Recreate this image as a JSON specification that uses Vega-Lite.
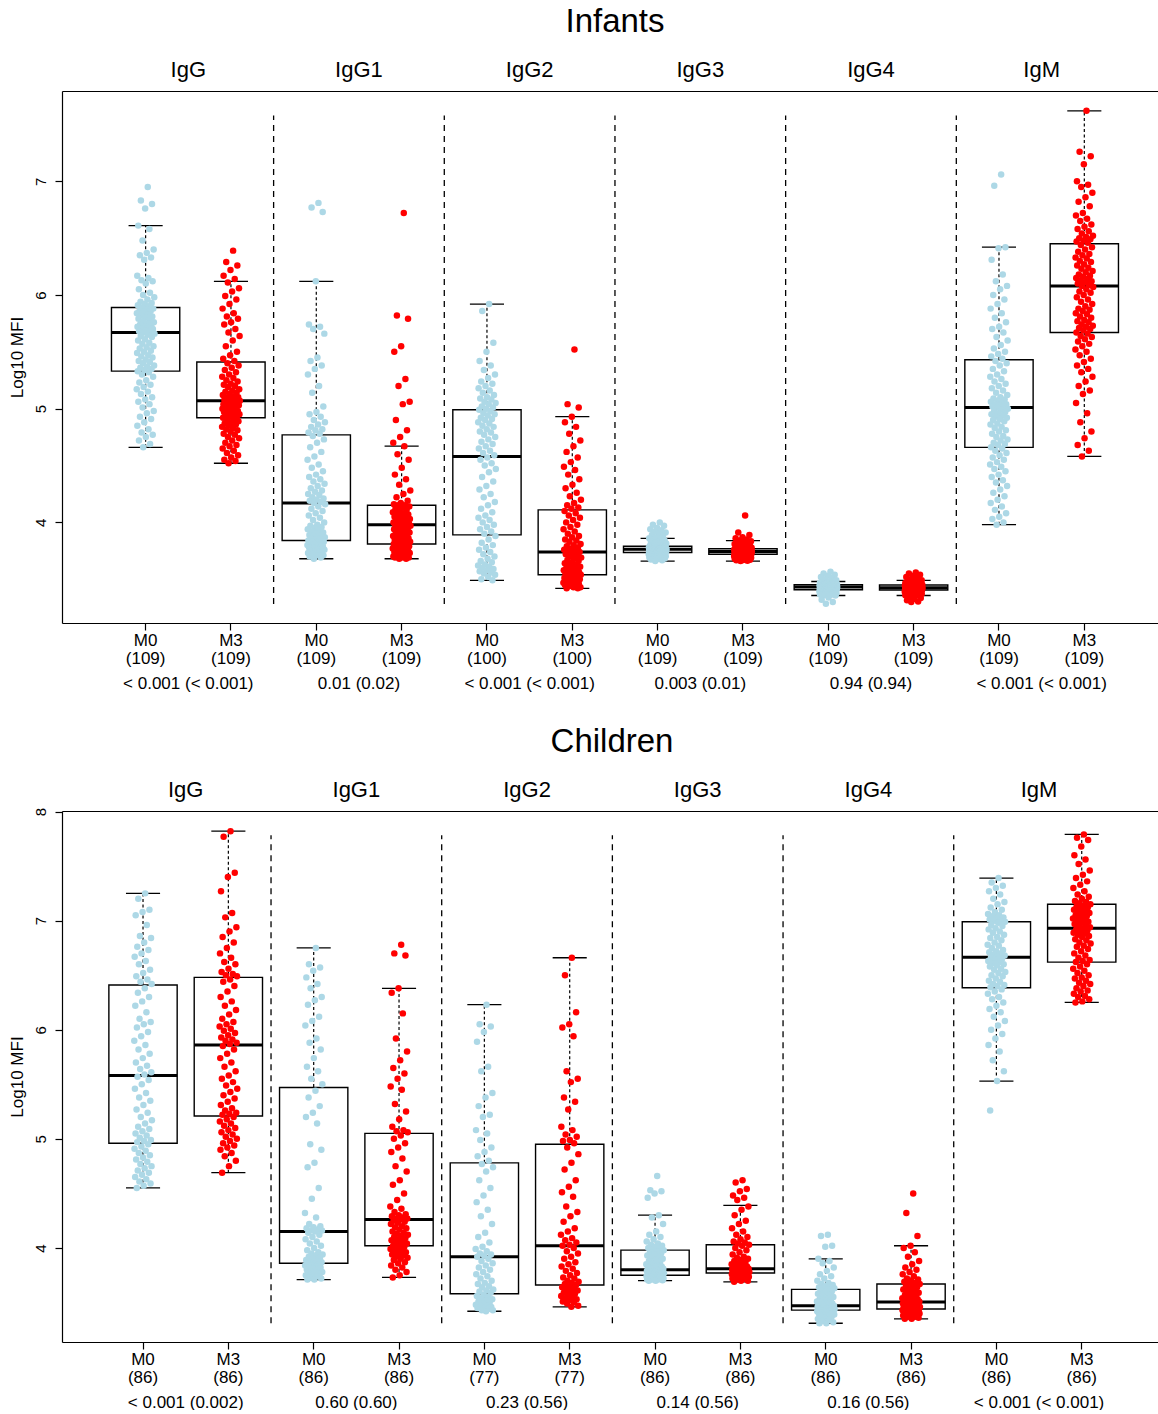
{
"$schema":"https://vega.github.io/schema/vega-lite/v6.json",
"padding":{"top":6,"left":8,"right":0,"bottom":0},
"spacing":35,
"config":{"view":{"stroke":null},"font":"Liberation Sans","axis":{"grid":false,"domainColor":"#000","tickColor":"#000","labelColor":"#000","titleColor":"#000","titleFontWeight":"normal","labelFont":"Liberation Sans","titleFont":"Liberation Sans"},"title":{"fontWeight":"normal","color":"#000","anchor":"middle","font":"Liberation Sans"}},
"datasets":{
"grp":[
{"p":"Infants","iso":"IgG","pv":"< 0.001 (< 0.001)"},{"p":"Infants","iso":"IgG1","pv":"0.01 (0.02)"},{"p":"Infants","iso":"IgG2","pv":"< 0.001 (< 0.001)"},{"p":"Infants","iso":"IgG3","pv":"0.003 (0.01)"},{"p":"Infants","iso":"IgG4","pv":"0.94 (0.94)"},{"p":"Infants","iso":"IgM","pv":"< 0.001 (< 0.001)"},
{"p":"Children","iso":"IgG","pv":"< 0.001 (0.002)"},{"p":"Children","iso":"IgG1","pv":"0.60 (0.60)"},{"p":"Children","iso":"IgG2","pv":"0.23 (0.56)"},{"p":"Children","iso":"IgG3","pv":"0.14 (0.56)"},{"p":"Children","iso":"IgG4","pv":"0.16 (0.56)"},{"p":"Children","iso":"IgM","pv":"< 0.001 (< 0.001)"}
],
"box":[
{"p":"Infants","iso":"IgG","t":"M0","n":109,"lo":4.66,"q1":5.33,"med":5.67,"q3":5.89,"hi":6.61},
{"p":"Infants","iso":"IgG","t":"M3","n":109,"lo":4.52,"q1":4.92,"med":5.07,"q3":5.41,"hi":6.12},
{"p":"Infants","iso":"IgG1","t":"M0","n":109,"lo":3.68,"q1":3.84,"med":4.17,"q3":4.77,"hi":6.12},
{"p":"Infants","iso":"IgG1","t":"M3","n":109,"lo":3.68,"q1":3.81,"med":3.98,"q3":4.15,"hi":4.67},
{"p":"Infants","iso":"IgG2","t":"M0","n":100,"lo":3.49,"q1":3.89,"med":4.58,"q3":4.99,"hi":5.92},
{"p":"Infants","iso":"IgG2","t":"M3","n":100,"lo":3.42,"q1":3.54,"med":3.74,"q3":4.11,"hi":4.93},
{"p":"Infants","iso":"IgG3","t":"M0","n":109,"lo":3.66,"q1":3.735,"med":3.764,"q3":3.79,"hi":3.86},
{"p":"Infants","iso":"IgG3","t":"M3","n":109,"lo":3.66,"q1":3.72,"med":3.744,"q3":3.768,"hi":3.84},
{"p":"Infants","iso":"IgG4","t":"M0","n":109,"lo":3.357,"q1":3.408,"med":3.432,"q3":3.452,"hi":3.48},
{"p":"Infants","iso":"IgG4","t":"M3","n":109,"lo":3.357,"q1":3.405,"med":3.425,"q3":3.449,"hi":3.49},
{"p":"Infants","iso":"IgM","t":"M0","n":109,"lo":3.98,"q1":4.66,"med":5.01,"q3":5.43,"hi":6.42},
{"p":"Infants","iso":"IgM","t":"M3","n":109,"lo":4.58,"q1":5.67,"med":6.08,"q3":6.45,"hi":7.62},
{"p":"Children","iso":"IgG","t":"M0","n":86,"lo":4.55,"q1":4.96,"med":5.58,"q3":6.41,"hi":7.25},
{"p":"Children","iso":"IgG","t":"M3","n":86,"lo":4.69,"q1":5.21,"med":5.86,"q3":6.48,"hi":7.82},
{"p":"Children","iso":"IgG1","t":"M0","n":86,"lo":3.71,"q1":3.86,"med":4.15,"q3":5.47,"hi":6.75},
{"p":"Children","iso":"IgG1","t":"M3","n":86,"lo":3.73,"q1":4.02,"med":4.26,"q3":5.05,"hi":6.38},
{"p":"Children","iso":"IgG2","t":"M0","n":77,"lo":3.42,"q1":3.58,"med":3.92,"q3":4.78,"hi":6.23},
{"p":"Children","iso":"IgG2","t":"M3","n":77,"lo":3.46,"q1":3.66,"med":4.02,"q3":4.95,"hi":6.66},
{"p":"Children","iso":"IgG3","t":"M0","n":86,"lo":3.70,"q1":3.75,"med":3.80,"q3":3.98,"hi":4.30},
{"p":"Children","iso":"IgG3","t":"M3","n":86,"lo":3.69,"q1":3.77,"med":3.81,"q3":4.03,"hi":4.39},
{"p":"Children","iso":"IgG4","t":"M0","n":86,"lo":3.31,"q1":3.43,"med":3.47,"q3":3.62,"hi":3.90},
{"p":"Children","iso":"IgG4","t":"M3","n":86,"lo":3.35,"q1":3.44,"med":3.505,"q3":3.67,"hi":4.02},
{"p":"Children","iso":"IgM","t":"M0","n":86,"lo":5.53,"q1":6.385,"med":6.665,"q3":6.99,"hi":7.39},
{"p":"Children","iso":"IgM","t":"M3","n":86,"lo":6.25,"q1":6.62,"med":6.93,"q3":7.15,"hi":7.79}
],
"pts":[
{"p":"Infants","iso":"IgG","t":"M0","n":109,"v":[6.95,6.83,6.80,6.76,6.61,6.58,6.48,6.40,6.37,6.35,6.33,6.31,6.17,6.15,6.13,6.12,6.10,6.05,6.02,6.00,5.98,5.96,5.94,5.93,5.92,5.91,5.90,5.89,5.88,5.87,5.86,5.86,5.85,5.84,5.83,5.82,5.81,5.80,5.79,5.78,5.77,5.76,5.75,5.74,5.73,5.72,5.72,5.71,5.70,5.70,5.69,5.68,5.68,5.67,5.66,5.65,5.64,5.63,5.61,5.60,5.58,5.57,5.55,5.54,5.53,5.51,5.50,5.49,5.47,5.46,5.45,5.43,5.42,5.41,5.40,5.38,5.37,5.36,5.35,5.34,5.33,5.32,5.30,5.28,5.25,5.23,5.21,5.19,5.17,5.15,5.13,5.10,5.08,5.06,5.04,5.01,4.98,4.96,4.93,4.91,4.88,4.85,4.82,4.79,4.77,4.75,4.72,4.69,4.66]},
{"p":"Infants","iso":"IgG","t":"M3","n":109,"v":[6.39,6.29,6.26,6.22,6.17,6.14,6.11,6.06,6.03,5.99,5.96,5.92,5.88,5.84,5.81,5.79,5.76,5.74,5.70,5.67,5.64,5.60,5.55,5.50,5.47,5.44,5.42,5.40,5.38,5.36,5.34,5.32,5.30,5.28,5.27,5.25,5.24,5.22,5.21,5.20,5.19,5.17,5.16,5.15,5.14,5.13,5.12,5.11,5.10,5.10,5.09,5.08,5.08,5.07,5.07,5.06,5.06,5.05,5.05,5.04,5.04,5.03,5.03,5.02,5.01,5.01,5.00,5.00,4.99,4.99,4.98,4.97,4.97,4.96,4.96,4.95,4.95,4.94,4.93,4.93,4.92,4.91,4.90,4.89,4.88,4.87,4.86,4.85,4.84,4.83,4.82,4.81,4.80,4.78,4.77,4.75,4.74,4.72,4.70,4.68,4.67,4.65,4.63,4.61,4.59,4.57,4.55,4.54,4.52]},
{"p":"Infants","iso":"IgG1","t":"M0","n":109,"v":[6.81,6.77,6.73,6.12,5.74,5.72,5.70,5.66,5.45,5.42,5.38,5.35,5.30,5.20,5.14,5.02,4.97,4.95,4.93,4.90,4.88,4.86,4.84,4.82,4.81,4.79,4.78,4.76,4.73,4.70,4.66,4.62,4.58,4.55,4.51,4.48,4.45,4.42,4.40,4.38,4.36,4.34,4.32,4.30,4.28,4.27,4.25,4.24,4.22,4.21,4.20,4.19,4.18,4.17,4.16,4.14,4.12,4.10,4.08,4.06,4.04,4.02,4.00,3.98,3.97,3.96,3.95,3.94,3.93,3.92,3.91,3.90,3.89,3.88,3.88,3.87,3.86,3.86,3.85,3.85,3.84,3.84,3.83,3.83,3.82,3.82,3.81,3.81,3.80,3.80,3.79,3.79,3.78,3.78,3.77,3.77,3.76,3.76,3.75,3.75,3.74,3.73,3.73,3.72,3.71,3.71,3.70,3.69,3.68]},
{"p":"Infants","iso":"IgG1","t":"M3","n":109,"v":[6.72,5.82,5.79,5.55,5.50,5.26,5.20,5.06,5.04,4.90,4.81,4.75,4.70,4.67,4.60,4.55,4.48,4.42,4.38,4.33,4.28,4.25,4.22,4.19,4.17,4.16,4.15,4.15,4.14,4.13,4.12,4.11,4.10,4.09,4.08,4.08,4.07,4.06,4.05,4.05,4.04,4.03,4.03,4.02,4.01,4.01,4.00,4.00,3.99,3.99,3.99,3.98,3.98,3.98,3.97,3.96,3.96,3.95,3.94,3.94,3.93,3.92,3.91,3.91,3.90,3.89,3.89,3.88,3.87,3.87,3.86,3.85,3.85,3.84,3.84,3.83,3.83,3.82,3.82,3.81,3.81,3.80,3.80,3.79,3.79,3.78,3.78,3.77,3.77,3.76,3.76,3.75,3.75,3.74,3.74,3.73,3.73,3.72,3.72,3.71,3.71,3.70,3.70,3.70,3.69,3.69,3.69,3.68,3.68]},
{"p":"Infants","iso":"IgG2","t":"M0","n":100,"v":[5.92,5.86,5.58,5.50,5.42,5.38,5.34,5.30,5.27,5.24,5.22,5.20,5.18,5.16,5.14,5.12,5.10,5.09,5.08,5.06,5.05,5.04,5.02,5.01,5.00,4.99,4.98,4.96,4.95,4.94,4.92,4.91,4.90,4.88,4.87,4.85,4.84,4.82,4.80,4.79,4.77,4.75,4.73,4.71,4.69,4.67,4.65,4.63,4.61,4.59,4.57,4.55,4.52,4.50,4.47,4.44,4.40,4.36,4.32,4.29,4.25,4.22,4.18,4.15,4.12,4.09,4.06,4.04,4.02,4.00,3.98,3.96,3.94,3.92,3.90,3.88,3.85,3.82,3.80,3.78,3.76,3.74,3.72,3.70,3.68,3.66,3.65,3.63,3.62,3.61,3.60,3.59,3.58,3.57,3.56,3.55,3.54,3.52,3.50,3.49]},
{"p":"Infants","iso":"IgG2","t":"M3","n":100,"v":[5.52,5.04,5.01,4.93,4.88,4.84,4.78,4.72,4.67,4.62,4.57,4.53,4.49,4.46,4.42,4.38,4.33,4.30,4.26,4.23,4.20,4.17,4.15,4.13,4.12,4.10,4.08,4.06,4.04,4.02,4.00,3.98,3.96,3.94,3.92,3.90,3.88,3.87,3.85,3.84,3.83,3.81,3.80,3.79,3.78,3.77,3.76,3.76,3.75,3.74,3.73,3.72,3.71,3.70,3.69,3.68,3.67,3.66,3.65,3.64,3.63,3.62,3.61,3.61,3.60,3.59,3.58,3.58,3.57,3.57,3.56,3.56,3.55,3.55,3.54,3.54,3.53,3.53,3.52,3.52,3.51,3.51,3.50,3.50,3.49,3.49,3.48,3.48,3.47,3.47,3.46,3.46,3.45,3.45,3.44,3.44,3.43,3.43,3.42,3.42]},
{"p":"Infants","iso":"IgG3","t":"M0","n":109,"v":[4.00,3.98,3.97,3.95,3.94,3.93,3.92,3.91,3.90,3.89,3.88,3.87,3.86,3.855,3.845,3.84,3.835,3.83,3.825,3.82,3.815,3.81,3.805,3.80,3.798,3.795,3.792,3.79,3.788,3.786,3.784,3.782,3.780,3.779,3.778,3.777,3.776,3.775,3.774,3.773,3.772,3.771,3.770,3.770,3.769,3.768,3.768,3.767,3.767,3.766,3.766,3.765,3.765,3.764,3.763,3.762,3.761,3.760,3.759,3.758,3.757,3.756,3.755,3.754,3.753,3.752,3.751,3.750,3.749,3.748,3.747,3.746,3.745,3.744,3.743,3.742,3.741,3.740,3.738,3.737,3.735,3.733,3.731,3.729,3.727,3.725,3.723,3.721,3.719,3.717,3.715,3.713,3.711,3.709,3.707,3.705,3.703,3.701,3.699,3.697,3.694,3.691,3.688,3.685,3.682,3.678,3.673,3.667,3.660]},
{"p":"Infants","iso":"IgG3","t":"M3","n":109,"v":[4.06,3.91,3.89,3.87,3.86,3.85,3.84,3.835,3.83,3.825,3.82,3.815,3.81,3.805,3.80,3.795,3.79,3.787,3.784,3.781,3.778,3.776,3.774,3.772,3.771,3.770,3.769,3.768,3.767,3.766,3.765,3.764,3.763,3.762,3.761,3.760,3.759,3.758,3.757,3.756,3.755,3.754,3.753,3.752,3.751,3.750,3.749,3.748,3.748,3.747,3.746,3.746,3.745,3.744,3.743,3.742,3.741,3.740,3.739,3.738,3.737,3.736,3.735,3.734,3.733,3.732,3.731,3.730,3.729,3.728,3.727,3.726,3.725,3.724,3.724,3.723,3.723,3.722,3.721,3.721,3.720,3.719,3.717,3.715,3.713,3.711,3.709,3.707,3.705,3.703,3.701,3.699,3.697,3.695,3.693,3.691,3.689,3.687,3.685,3.683,3.681,3.679,3.677,3.675,3.672,3.669,3.666,3.663,3.660]},
{"p":"Infants","iso":"IgG4","t":"M0","n":109,"v":[3.566,3.55,3.54,3.53,3.52,3.51,3.50,3.49,3.48,3.477,3.474,3.471,3.468,3.466,3.464,3.462,3.460,3.459,3.458,3.457,3.456,3.455,3.455,3.454,3.454,3.453,3.453,3.452,3.451,3.450,3.449,3.448,3.447,3.446,3.445,3.444,3.443,3.442,3.441,3.440,3.439,3.438,3.438,3.437,3.437,3.436,3.436,3.435,3.435,3.434,3.434,3.433,3.433,3.432,3.431,3.430,3.429,3.428,3.427,3.426,3.425,3.424,3.423,3.422,3.421,3.420,3.419,3.418,3.417,3.416,3.415,3.414,3.413,3.413,3.412,3.412,3.411,3.410,3.410,3.409,3.408,3.407,3.405,3.403,3.401,3.399,3.397,3.395,3.393,3.391,3.389,3.387,3.385,3.383,3.381,3.379,3.377,3.375,3.373,3.371,3.369,3.366,3.363,3.360,3.357,3.34,3.32,3.30,3.284]},
{"p":"Infants","iso":"IgG4","t":"M3","n":109,"v":[3.56,3.55,3.54,3.53,3.52,3.51,3.50,3.49,3.485,3.48,3.475,3.47,3.466,3.463,3.460,3.458,3.456,3.455,3.454,3.453,3.452,3.452,3.451,3.451,3.450,3.450,3.449,3.448,3.447,3.446,3.445,3.444,3.443,3.442,3.441,3.440,3.439,3.438,3.437,3.436,3.435,3.434,3.433,3.432,3.431,3.430,3.430,3.429,3.428,3.428,3.427,3.426,3.426,3.425,3.424,3.423,3.422,3.421,3.420,3.419,3.418,3.417,3.416,3.415,3.414,3.413,3.412,3.411,3.410,3.410,3.409,3.409,3.408,3.408,3.407,3.407,3.406,3.406,3.405,3.405,3.405,3.403,3.401,3.399,3.397,3.395,3.393,3.391,3.389,3.387,3.385,3.383,3.381,3.379,3.377,3.375,3.373,3.371,3.369,3.366,3.363,3.360,3.357,3.345,3.335,3.325,3.315,3.305,3.300]},
{"p":"Infants","iso":"IgM","t":"M0","n":109,"v":[7.06,6.96,6.42,6.41,6.31,6.18,6.12,6.08,6.05,6.00,5.96,5.92,5.88,5.84,5.80,5.76,5.72,5.70,5.67,5.63,5.60,5.56,5.53,5.50,5.48,5.46,5.44,5.42,5.40,5.38,5.35,5.33,5.30,5.28,5.26,5.24,5.22,5.20,5.18,5.16,5.14,5.12,5.10,5.09,5.08,5.07,5.06,5.05,5.04,5.04,5.03,5.02,5.02,5.01,5.00,4.99,4.98,4.97,4.96,4.95,4.94,4.93,4.92,4.91,4.90,4.89,4.87,4.86,4.84,4.83,4.81,4.80,4.78,4.76,4.75,4.73,4.72,4.70,4.69,4.68,4.66,4.65,4.63,4.61,4.59,4.57,4.55,4.53,4.51,4.49,4.47,4.45,4.42,4.40,4.37,4.35,4.32,4.29,4.26,4.23,4.20,4.17,4.14,4.11,4.08,4.05,4.03,4.00,3.98]},
{"p":"Infants","iso":"IgM","t":"M3","n":109,"v":[7.62,7.26,7.22,7.15,7.00,6.97,6.95,6.90,6.86,6.82,6.78,6.72,6.70,6.67,6.65,6.62,6.60,6.58,6.56,6.54,6.52,6.51,6.50,6.49,6.48,6.47,6.46,6.44,6.42,6.40,6.38,6.36,6.35,6.33,6.32,6.30,6.29,6.27,6.26,6.24,6.23,6.21,6.20,6.18,6.17,6.16,6.15,6.14,6.13,6.12,6.11,6.10,6.09,6.08,6.07,6.05,6.03,6.02,6.00,5.98,5.96,5.94,5.92,5.90,5.88,5.87,5.86,5.84,5.83,5.81,5.80,5.78,5.77,5.76,5.74,5.73,5.72,5.71,5.70,5.69,5.67,5.66,5.64,5.63,5.61,5.59,5.57,5.55,5.52,5.50,5.47,5.44,5.41,5.38,5.35,5.32,5.28,5.24,5.20,5.16,5.13,5.05,4.96,4.88,4.80,4.74,4.68,4.63,4.58]},
{"p":"Children","iso":"IgG","t":"M0","n":86,"v":[7.25,7.20,7.10,7.08,7.05,6.96,6.86,6.84,6.80,6.76,6.73,6.70,6.67,6.63,6.60,6.55,6.52,6.49,6.46,6.44,6.42,6.38,6.34,6.30,6.26,6.22,6.16,6.10,6.07,6.05,6.02,5.98,5.94,5.90,5.86,5.82,5.78,5.74,5.70,5.67,5.64,5.61,5.59,5.57,5.54,5.50,5.46,5.42,5.38,5.35,5.31,5.27,5.24,5.20,5.17,5.14,5.11,5.09,5.07,5.05,5.03,5.01,4.99,4.98,4.97,4.95,4.93,4.91,4.89,4.87,4.85,4.83,4.81,4.79,4.77,4.75,4.73,4.71,4.69,4.67,4.65,4.63,4.61,4.59,4.57,4.55]},
{"p":"Children","iso":"IgG","t":"M3","n":86,"v":[7.82,7.77,7.44,7.40,7.27,7.07,7.03,6.94,6.90,6.85,6.80,6.75,6.70,6.66,6.62,6.60,6.56,6.53,6.51,6.50,6.49,6.46,6.44,6.40,6.35,6.30,6.26,6.22,6.18,6.14,6.10,6.07,6.05,6.03,6.01,5.99,5.97,5.95,5.93,5.91,5.90,5.88,5.87,5.85,5.82,5.78,5.74,5.70,5.66,5.62,5.58,5.55,5.52,5.49,5.46,5.43,5.40,5.37,5.34,5.31,5.28,5.26,5.24,5.23,5.22,5.20,5.18,5.16,5.14,5.12,5.10,5.08,5.06,5.04,5.02,5.00,4.98,4.96,4.94,4.92,4.90,4.87,4.84,4.80,4.75,4.69]},
{"p":"Children","iso":"IgG1","t":"M0","n":86,"v":[6.75,6.60,6.57,6.54,6.48,6.42,6.38,6.30,6.27,6.23,6.12,6.08,6.04,5.92,5.88,5.82,5.74,5.66,5.62,5.55,5.50,5.44,5.38,5.30,5.24,5.20,5.14,4.95,4.90,4.78,4.74,4.55,4.45,4.32,4.28,4.22,4.20,4.19,4.18,4.17,4.16,4.16,4.15,4.14,4.12,4.10,4.08,4.06,4.04,4.02,4.00,3.98,3.96,3.95,3.94,3.93,3.92,3.91,3.90,3.89,3.88,3.87,3.87,3.86,3.86,3.85,3.84,3.84,3.83,3.82,3.82,3.81,3.80,3.80,3.79,3.78,3.78,3.77,3.76,3.76,3.75,3.74,3.73,3.72,3.71,3.71]},
{"p":"Children","iso":"IgG1","t":"M3","n":86,"v":[6.78,6.70,6.68,6.38,6.34,6.15,5.92,5.80,5.72,5.65,5.60,5.55,5.48,5.45,5.32,5.25,5.18,5.11,5.08,5.07,5.06,5.03,5.00,4.96,4.92,4.88,4.82,4.75,4.70,4.62,4.58,4.50,4.44,4.38,4.36,4.33,4.31,4.30,4.29,4.28,4.27,4.27,4.26,4.25,4.24,4.23,4.22,4.20,4.19,4.18,4.17,4.15,4.14,4.13,4.12,4.11,4.10,4.09,4.08,4.07,4.06,4.05,4.04,4.03,4.02,4.01,4.00,3.99,3.98,3.97,3.96,3.95,3.94,3.93,3.92,3.91,3.90,3.89,3.87,3.86,3.84,3.82,3.80,3.78,3.75,3.73]},
{"p":"Children","iso":"IgG2","t":"M0","n":77,"v":[6.23,6.05,6.03,5.98,5.89,5.66,5.62,5.42,5.38,5.30,5.22,5.20,5.08,5.05,4.99,4.92,4.88,4.84,4.80,4.77,4.74,4.70,4.62,4.55,4.48,4.42,4.35,4.29,4.22,4.14,4.10,4.05,4.01,3.99,3.97,3.95,3.94,3.93,3.92,3.90,3.88,3.86,3.84,3.82,3.80,3.78,3.76,3.74,3.72,3.70,3.68,3.67,3.65,3.64,3.62,3.61,3.60,3.59,3.57,3.56,3.55,3.54,3.53,3.52,3.51,3.50,3.49,3.48,3.47,3.47,3.46,3.45,3.45,3.44,3.43,3.43,3.42]},
{"p":"Children","iso":"IgG2","t":"M3","n":77,"v":[6.66,6.50,6.16,6.05,6.02,5.94,5.62,5.55,5.52,5.38,5.34,5.27,5.11,5.08,5.04,5.02,4.99,4.98,4.96,4.92,4.86,4.78,4.72,4.62,4.56,4.51,4.47,4.38,4.33,4.29,4.24,4.18,4.15,4.12,4.09,4.07,4.05,4.03,4.02,4.00,3.97,3.95,3.92,3.90,3.87,3.85,3.83,3.81,3.79,3.77,3.75,3.73,3.72,3.70,3.69,3.68,3.67,3.66,3.65,3.64,3.63,3.62,3.61,3.60,3.59,3.58,3.57,3.56,3.55,3.54,3.53,3.52,3.51,3.50,3.49,3.47,3.46]},
{"p":"Children","iso":"IgG3","t":"M0","n":86,"v":[4.66,4.53,4.52,4.50,4.46,4.30,4.28,4.22,4.15,4.12,4.10,4.08,4.06,4.04,4.03,4.02,4.01,4.00,3.99,3.98,3.98,3.97,3.96,3.95,3.94,3.93,3.92,3.91,3.90,3.89,3.88,3.87,3.86,3.85,3.84,3.84,3.83,3.83,3.82,3.82,3.81,3.81,3.80,3.80,3.80,3.79,3.79,3.79,3.785,3.78,3.78,3.78,3.775,3.77,3.77,3.77,3.765,3.76,3.76,3.76,3.76,3.755,3.75,3.75,3.75,3.75,3.745,3.74,3.74,3.74,3.735,3.73,3.73,3.73,3.725,3.72,3.72,3.72,3.715,3.71,3.71,3.71,3.71,3.705,3.70,3.70]},
{"p":"Children","iso":"IgG3","t":"M3","n":86,"v":[4.62,4.60,4.54,4.52,4.48,4.46,4.44,4.38,4.35,4.30,4.25,4.22,4.18,4.15,4.12,4.10,4.08,4.06,4.05,4.04,4.03,4.02,4.00,3.98,3.96,3.94,3.92,3.91,3.90,3.89,3.88,3.87,3.86,3.85,3.84,3.84,3.83,3.83,3.82,3.82,3.82,3.81,3.81,3.81,3.81,3.80,3.80,3.80,3.795,3.79,3.79,3.79,3.785,3.78,3.78,3.78,3.78,3.78,3.775,3.775,3.775,3.775,3.775,3.774,3.773,3.77,3.765,3.76,3.76,3.755,3.75,3.75,3.745,3.74,3.74,3.735,3.73,3.73,3.725,3.72,3.72,3.715,3.71,3.70,3.70,3.69]},
{"p":"Children","iso":"IgG4","t":"M0","n":86,"v":[4.12,4.11,4.02,4.01,3.90,3.88,3.86,3.82,3.79,3.76,3.74,3.72,3.70,3.68,3.67,3.66,3.65,3.64,3.64,3.63,3.63,3.62,3.61,3.60,3.59,3.58,3.57,3.56,3.55,3.54,3.53,3.52,3.52,3.51,3.50,3.50,3.49,3.49,3.48,3.48,3.48,3.47,3.47,3.47,3.465,3.46,3.46,3.455,3.455,3.45,3.45,3.45,3.445,3.445,3.44,3.44,3.44,3.435,3.435,3.435,3.43,3.43,3.43,3.43,3.43,3.43,3.42,3.42,3.42,3.41,3.41,3.41,3.40,3.40,3.39,3.39,3.38,3.38,3.37,3.36,3.35,3.34,3.33,3.32,3.31,3.31]},
{"p":"Children","iso":"IgG4","t":"M3","n":86,"v":[4.50,4.32,4.11,4.02,4.00,3.96,3.92,3.88,3.85,3.82,3.80,3.78,3.76,3.74,3.72,3.71,3.70,3.69,3.68,3.68,3.67,3.66,3.65,3.64,3.63,3.62,3.61,3.60,3.59,3.58,3.57,3.56,3.55,3.54,3.54,3.53,3.53,3.52,3.52,3.51,3.51,3.51,3.50,3.50,3.50,3.49,3.49,3.49,3.48,3.48,3.48,3.47,3.47,3.47,3.46,3.46,3.46,3.46,3.45,3.45,3.45,3.45,3.44,3.44,3.44,3.43,3.43,3.43,3.42,3.42,3.42,3.41,3.41,3.41,3.40,3.40,3.40,3.39,3.39,3.38,3.38,3.37,3.37,3.36,3.35,3.35]},
{"p":"Children","iso":"IgM","t":"M0","n":86,"v":[7.39,7.35,7.32,7.30,7.27,7.24,7.20,7.17,7.15,7.12,7.10,7.08,7.06,7.05,7.04,7.03,7.02,7.01,7.00,7.00,6.99,6.98,6.96,6.95,6.93,6.92,6.90,6.89,6.87,6.85,6.84,6.82,6.80,6.78,6.77,6.75,6.73,6.72,6.71,6.70,6.69,6.68,6.67,6.66,6.65,6.64,6.63,6.62,6.61,6.60,6.59,6.58,6.56,6.55,6.53,6.52,6.50,6.49,6.47,6.45,6.44,6.42,6.41,6.40,6.39,6.37,6.35,6.33,6.30,6.28,6.25,6.22,6.19,6.16,6.12,6.08,6.04,6.00,5.96,5.92,5.86,5.80,5.72,5.62,5.53,5.26]},
{"p":"Children","iso":"IgM","t":"M3","n":86,"v":[7.79,7.76,7.74,7.68,7.60,7.56,7.52,7.46,7.42,7.39,7.36,7.33,7.30,7.27,7.24,7.22,7.20,7.18,7.17,7.16,7.15,7.14,7.13,7.12,7.11,7.10,7.09,7.08,7.07,7.06,7.05,7.04,7.03,7.02,7.01,7.00,6.99,6.98,6.97,6.96,6.95,6.94,6.93,6.92,6.91,6.90,6.89,6.88,6.87,6.86,6.85,6.83,6.82,6.80,6.79,6.77,6.76,6.74,6.72,6.70,6.68,6.66,6.64,6.63,6.62,6.60,6.58,6.56,6.54,6.52,6.50,6.48,6.47,6.45,6.43,6.42,6.40,6.38,6.36,6.35,6.33,6.31,6.30,6.28,6.26,6.25]}
]
},
"vconcat":[
{
"title":{"text":"Infants","fontSize":33,"dx":5,"offset":-7,"baseline":"alphabetic"},
"width":1096,"height":532,
"resolve":{"scale":{"x":"independent"},"axis":{"x":"independent"}},
"layer":[
{"data":{"name":"grp"},"transform":[{"filter":"datum.p === 'Infants' && datum.iso !== 'IgG'"}],
"mark":{"type":"rule","strokeDash":[6,5],"strokeWidth":1.3,"color":"#000"},
"encoding":{
"x":{"field":"iso","type":"nominal","bandPosition":0,"title":null,"scale":{"domain":["IgG","IgG1","IgG2","IgG3","IgG4","IgM"],"paddingInner":0,"paddingOuter":0.2108,"align":0.569},"axis":{"orient":"top","ticks":false,"domain":true,"domainWidth":1.2,"labelFontSize":22,"labelPadding":15,"labelBaseline":"alphabetic","labelAngle":0,"labelOverlap":false,"labelFlush":false}},
"y":{"datum":3.283,"type":"quantitative","title":"Log10 MFI","scale":{"domain":[3.115,7.794],"nice":false,"zero":false},"axis":{"values":[4,5,6,7],"format":"d","labelAngle":270,"labelAlign":"center","labelBaseline":"alphabetic","labelFontSize":15,"labelPadding":10,"tickSize":7,"tickWidth":1.2,"domainWidth":1.2,"titleFontSize":17,"titlePadding":7}},
"y2":{"datum":7.579}}},
{"data":{"name":"grp"},"transform":[{"filter":"datum.p === 'Infants'"},{"calculate":"datum.iso + '#' + datum.pv","as":"ipv"}],
"mark":{"type":"rule","opacity":0},
"encoding":{"x":{"field":"ipv","type":"nominal","title":null,"scale":{"paddingInner":0,"paddingOuter":0.2108,"align":0.569},"axis":{"orient":"bottom","ticks":false,"domain":false,"labelExpr":"split(datum.value,'#')[1]","labelFontSize":17,"labelPadding":65,"labelBaseline":"alphabetic","labelAngle":0,"labelOverlap":false,"labelFlush":false}}}},
{"layer":[
{"data":{"name":"box"},"transform":[{"filter":"datum.p === 'Infants'"},{"calculate":"datum.iso + '#' + datum.t + '#' + datum.n","as":"key"}],
"mark":{"type":"rule","strokeDash":[3,2.5],"strokeWidth":1.2,"color":"#000"},
"encoding":{"x":{"field":"key","type":"nominal","title":null,"scale":{"paddingInner":0,"paddingOuter":0.4216,"align":0.569},"axis":{"orient":"bottom","ticks":true,"tickSize":7,"tickWidth":1.2,"domain":true,"domainWidth":1.2,"labelExpr":"[split(datum.value,'#')[1], '(' + split(datum.value,'#')[2] + ')']","labelFontSize":17,"labelLineHeight":17.5,"labelBaseline":"alphabetic","labelPadding":15.5,"labelAngle":0,"labelOverlap":false,"labelFlush":false}},
"y":{"field":"lo","type":"quantitative","title":"Log10 MFI"},"y2":{"field":"hi"}}},
{"data":{"name":"box"},"transform":[{"filter":"datum.p === 'Infants'"},{"calculate":"datum.iso + '#' + datum.t + '#' + datum.n","as":"key"},{"fold":["lo","hi"],"as":["w","wv"]}],
"mark":{"type":"tick","thickness":1.3,"size":34.1,"color":"#000","opacity":1},
"encoding":{"x":{"field":"key","type":"nominal","title":null},"y":{"field":"wv","type":"quantitative","title":"Log10 MFI"}}},
{"data":{"name":"box"},"transform":[{"filter":"datum.p === 'Infants'"},{"calculate":"datum.iso + '#' + datum.t + '#' + datum.n","as":"key"}],
"mark":{"type":"bar","fill":"#fff","stroke":"#000","strokeWidth":1.4,"width":68.3},
"encoding":{"x":{"field":"key","type":"nominal","title":null},"y":{"field":"q1","type":"quantitative","title":"Log10 MFI"},"y2":{"field":"q3"}}},
{"data":{"name":"box"},"transform":[{"filter":"datum.p === 'Infants'"},{"calculate":"datum.iso + '#' + datum.t + '#' + datum.n","as":"key"}],
"mark":{"type":"tick","thickness":3,"size":68.3,"color":"#000","opacity":1},
"encoding":{"x":{"field":"key","type":"nominal","title":null},"y":{"field":"med","type":"quantitative","title":"Log10 MFI"}}},
{"data":{"name":"pts"},"transform":[{"filter":"datum.p === 'Infants'"},{"flatten":["v"]},{"window":[{"op":"row_number","as":"k"}],"groupby":["iso","t"]},{"calculate":"datum.iso + '#' + datum.t + '#' + datum.n","as":"key"},{"calculate":"(datum.k * 0.6180339887) % 1","as":"j"}],
"mark":{"type":"circle","size":42,"opacity":1},
"encoding":{"x":{"field":"key","type":"nominal","title":null},"xOffset":{"field":"j","type":"quantitative","scale":{"domain":[0,1],"range":[33.7,51.7]}},"y":{"field":"v","type":"quantitative","title":"Log10 MFI"},"color":{"field":"t","type":"nominal","scale":{"domain":["M0","M3"],"range":["#ADD8E6","#FF0000"]},"legend":null}}}
]}
]
},
{
"title":{"text":"Children","fontSize":33,"dx":2,"offset":-7,"baseline":"alphabetic"},
"width":1096,"height":531,
"resolve":{"scale":{"x":"independent"},"axis":{"x":"independent"}},
"layer":[
{"data":{"name":"grp"},"transform":[{"filter":"datum.p === 'Children' && datum.iso !== 'IgG'"}],
"mark":{"type":"rule","strokeDash":[6,5],"strokeWidth":1.3,"color":"#000"},
"encoding":{
"x":{"field":"iso","type":"nominal","bandPosition":0,"title":null,"scale":{"domain":["IgG","IgG1","IgG2","IgG3","IgG4","IgM"],"paddingInner":0,"paddingOuter":0.2108,"align":0.533},"axis":{"orient":"top","ticks":false,"domain":true,"domainWidth":1.2,"labelFontSize":22,"labelPadding":15,"labelBaseline":"alphabetic","labelAngle":0,"labelOverlap":false,"labelFlush":false}},
"y":{"datum":3.311,"type":"quantitative","title":"Log10 MFI","scale":{"domain":[3.138,8.005],"nice":false,"zero":false},"axis":{"values":[4,5,6,7,8],"format":"d","labelAngle":270,"labelAlign":"center","labelBaseline":"alphabetic","labelFontSize":15,"labelPadding":10,"tickSize":7,"tickWidth":1.2,"domainWidth":1.2,"titleFontSize":17,"titlePadding":7}},
"y2":{"datum":7.782}}},
{"data":{"name":"grp"},"transform":[{"filter":"datum.p === 'Children'"},{"calculate":"datum.iso + '#' + datum.pv","as":"ipv"}],
"mark":{"type":"rule","opacity":0},
"encoding":{"x":{"field":"ipv","type":"nominal","title":null,"scale":{"paddingInner":0,"paddingOuter":0.2108,"align":0.533},"axis":{"orient":"bottom","ticks":false,"domain":false,"labelExpr":"split(datum.value,'#')[1]","labelFontSize":17,"labelPadding":65,"labelBaseline":"alphabetic","labelAngle":0,"labelOverlap":false,"labelFlush":false}}}},
{"layer":[
{"data":{"name":"box"},"transform":[{"filter":"datum.p === 'Children'"},{"calculate":"datum.iso + '#' + datum.t + '#' + datum.n","as":"key"}],
"mark":{"type":"rule","strokeDash":[3,2.5],"strokeWidth":1.2,"color":"#000"},
"encoding":{"x":{"field":"key","type":"nominal","title":null,"scale":{"paddingInner":0,"paddingOuter":0.4216,"align":0.533},"axis":{"orient":"bottom","ticks":true,"tickSize":7,"tickWidth":1.2,"domain":true,"domainWidth":1.2,"labelExpr":"[split(datum.value,'#')[1], '(' + split(datum.value,'#')[2] + ')']","labelFontSize":17,"labelLineHeight":17.5,"labelBaseline":"alphabetic","labelPadding":15.5,"labelAngle":0,"labelOverlap":false,"labelFlush":false}},
"y":{"field":"lo","type":"quantitative","title":"Log10 MFI"},"y2":{"field":"hi"}}},
{"data":{"name":"box"},"transform":[{"filter":"datum.p === 'Children'"},{"calculate":"datum.iso + '#' + datum.t + '#' + datum.n","as":"key"},{"fold":["lo","hi"],"as":["w","wv"]}],
"mark":{"type":"tick","thickness":1.3,"size":34.1,"color":"#000","opacity":1},
"encoding":{"x":{"field":"key","type":"nominal","title":null},"y":{"field":"wv","type":"quantitative","title":"Log10 MFI"}}},
{"data":{"name":"box"},"transform":[{"filter":"datum.p === 'Children'"},{"calculate":"datum.iso + '#' + datum.t + '#' + datum.n","as":"key"}],
"mark":{"type":"bar","fill":"#fff","stroke":"#000","strokeWidth":1.4,"width":68.3},
"encoding":{"x":{"field":"key","type":"nominal","title":null},"y":{"field":"q1","type":"quantitative","title":"Log10 MFI"},"y2":{"field":"q3"}}},
{"data":{"name":"box"},"transform":[{"filter":"datum.p === 'Children'"},{"calculate":"datum.iso + '#' + datum.t + '#' + datum.n","as":"key"}],
"mark":{"type":"tick","thickness":3,"size":68.3,"color":"#000","opacity":1},
"encoding":{"x":{"field":"key","type":"nominal","title":null},"y":{"field":"med","type":"quantitative","title":"Log10 MFI"}}},
{"data":{"name":"pts"},"transform":[{"filter":"datum.p === 'Children'"},{"flatten":["v"]},{"window":[{"op":"row_number","as":"k"}],"groupby":["iso","t"]},{"calculate":"datum.iso + '#' + datum.t + '#' + datum.n","as":"key"},{"calculate":"(datum.k * 0.6180339887) % 1","as":"j"}],
"mark":{"type":"circle","size":42,"opacity":1},
"encoding":{"x":{"field":"key","type":"nominal","title":null},"xOffset":{"field":"j","type":"quantitative","scale":{"domain":[0,1],"range":[33.7,51.7]}},"y":{"field":"v","type":"quantitative","title":"Log10 MFI"},"color":{"field":"t","type":"nominal","scale":{"domain":["M0","M3"],"range":["#ADD8E6","#FF0000"]},"legend":null}}}
]}
]
}
]
}
